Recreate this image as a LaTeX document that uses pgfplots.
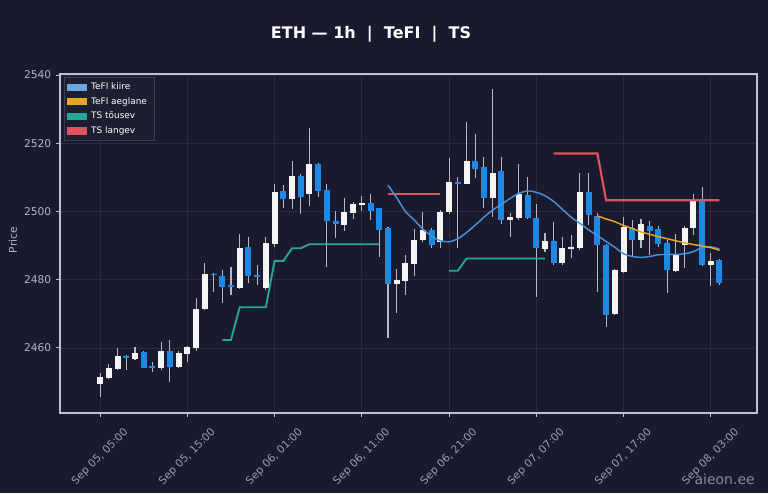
\documentclass[border=0pt]{standalone}
\usepackage{fontspec}
\setmainfont{DejaVu Sans}
\usepackage{pgfplots}
\usepackage{pgfplotstable}
\pgfplotsset{compat=1.18}

\definecolor{bg}{HTML}{1A1A2E}
\definecolor{gridc}{HTML}{2A2A42}
\definecolor{frame}{HTML}{C0C0CC}
\definecolor{ticklab}{HTML}{B4B4C0}
\definecolor{xlab}{HTML}{9C9CAC}
\definecolor{upc}{HTML}{F4F4F4}
\definecolor{dnc}{HTML}{1E88E5}
\definecolor{wick}{HTML}{B8B8C2}
\definecolor{kiire}{HTML}{4A90D9}
\definecolor{aeg}{HTML}{E6A623}
\definecolor{tous}{HTML}{26A69A}
\definecolor{lang}{HTML}{E05260}
\definecolor{legbg}{HTML}{1E1E31}
\definecolor{legdraw}{HTML}{3C3C55}

% candles: i = hours since Sep 05 05:00
\pgfplotstableread{
i o h l c
0 2449.3 2452.5 2445.7 2451.5
1 2451.3 2455.2 2451.0 2454.0
2 2453.7 2459.9 2453.5 2457.6
4 2456.7 2460.3 2456.5 2458.6
7 2454.0 2461.8 2453.5 2459.2
9 2454.3 2459.0 2454.0 2458.4
10 2458.2 2460.5 2456.0 2460.3
11 2459.9 2474.5 2459.2 2471.3
12 2471.4 2484.8 2471.0 2481.6
16 2477.7 2493.3 2477.4 2489.2
19 2477.7 2492.6 2477.0 2490.7
20 2490.4 2508.0 2489.7 2505.8
22 2503.6 2514.8 2500.6 2510.4
24 2505.0 2524.4 2501.6 2513.9
28 2496.0 2504.0 2494.3 2499.7
29 2499.4 2502.9 2497.8 2502.2
30 2501.9 2504.5 2500.2 2502.6
34 2478.7 2483.0 2470.3 2479.9
35 2479.7 2487.2 2475.5 2484.8
36 2484.5 2495.0 2481.1 2491.6
37 2491.6 2499.9 2491.0 2494.5
39 2491.1 2500.4 2489.2 2499.9
40 2499.9 2515.7 2499.3 2508.5
42 2508.2 2526.1 2508.0 2514.9
45 2503.8 2535.8 2498.5 2511.4
47 2497.5 2499.6 2492.6 2498.3
48 2498.0 2513.8 2497.5 2505.1
51 2488.9 2493.8 2488.2 2491.3
53 2484.8 2492.6 2484.3 2489.2
54 2488.9 2493.1 2486.5 2489.5
55 2489.2 2511.2 2488.7 2505.8
59 2469.9 2483.0 2469.5 2482.8
60 2482.3 2498.5 2482.0 2495.3
62 2491.6 2497.7 2489.2 2496.2
66 2482.5 2493.4 2482.3 2487.5
67 2490.1 2495.7 2483.3 2495.3
68 2495.0 2505.1 2493.1 2503.2
70 2484.3 2487.7 2478.1 2485.5
}\up

\pgfplotstableread{
i o h l c
3 2457.6 2457.8 2453.5 2457.2
5 2458.7 2459.0 2454.0 2454.2
6 2454.6 2456.0 2453.0 2454.1
8 2459.2 2462.3 2450.1 2454.5
13 2481.8 2482.0 2476.5 2481.3
14 2481.1 2482.8 2473.2 2477.9
15 2478.2 2483.8 2475.5 2477.9
17 2489.7 2492.4 2479.1 2481.1
18 2481.3 2484.3 2478.4 2480.9
21 2506.0 2507.7 2500.9 2503.6
23 2510.4 2510.9 2499.4 2504.3
25 2514.0 2514.3 2504.1 2506.1
26 2506.3 2508.2 2483.8 2497.2
27 2497.3 2500.1 2492.1 2496.2
31 2502.4 2505.1 2497.5 2500.2
32 2500.9 2501.1 2486.7 2494.5
33 2495.1 2495.5 2462.8 2478.7
38 2494.5 2495.0 2489.2 2490.1
41 2508.6 2510.0 2489.2 2508.2
43 2514.8 2522.7 2509.7 2512.6
44 2512.9 2516.0 2500.9 2503.8
46 2512.0 2515.9 2496.3 2497.5
49 2504.8 2510.0 2497.7 2498.0
50 2498.0 2502.2 2475.0 2489.2
52 2491.3 2497.0 2484.3 2484.8
56 2505.6 2511.2 2496.0 2498.9
57 2498.7 2499.4 2476.5 2490.1
58 2490.1 2490.5 2466.0 2469.6
61 2495.3 2497.5 2486.9 2491.6
63 2495.7 2497.2 2487.2 2494.3
64 2495.0 2495.7 2489.7 2490.4
65 2490.8 2491.6 2476.0 2482.8
69 2503.2 2507.3 2484.0 2484.3
71 2485.7 2486.2 2478.5 2478.9
}\down

\pgfplotsset{
  wicks/.style={draw=none, mark=none, forget plot,
    error bars/.cd, y dir=both, y explicit, error mark=none,
    error bar style={draw=wick, line width=0.8pt}},
  body/.style={draw=none, mark=none, forget plot,
    error bars/.cd, y dir=both, y explicit, error mark=none,
    error bar style={draw=#1, line width=4.5pt}},
}

\begin{document}
\begin{tikzpicture}
\path[use as bounding box, fill=bg] (0pt,0pt) rectangle (576pt,369.75pt);
\begin{axis}[
    at={(45pt,60pt)}, anchor=south west,
    scale only axis, width=522.75pt, height=254.25pt,
    xmin=-4.6, xmax=75.3, ymin=2440.9, ymax=2540.3,
    axis background/.style={fill=bg},
    axis line style={draw=frame, line width=1pt},
    tick align=outside, major tick length=3pt,
    tick style={draw=frame, line width=0.7pt},
    xtick={0,10,...,70},
    xticklabels={{Sep 05, 05:00},{Sep 05, 15:00},{Sep 06, 01:00},{Sep 06, 11:00},
                 {Sep 06, 21:00},{Sep 07, 07:00},{Sep 07, 17:00},{Sep 08, 03:00}},
    ytick={2460,2480,2500,2520,2540},
    yticklabel={\pgfmathprintnumber[1000 sep={}]{\tick}},
    /pgf/number format/assume math mode=true,
    xtick pos=bottom, ytick pos=left,
    grid=major, major grid style={draw=gridc, line width=0.5pt},
    ticklabel style={font=\fontsize{8}{9}\selectfont},
    xticklabel style={text=xlab, anchor=center, yshift=-30pt, rotate=45},
    yticklabel style={text=ticklab},
    legend style={at={(axis description cs:0.006,0.991)}, anchor=north west,
      fill=legbg, draw=legdraw, line width=0.5pt, text=white,
      font=\fontsize{6.7}{7.5}\selectfont, inner xsep=2pt, inner ysep=2pt,
      row sep=0.3pt, cells={anchor=west},
      nodes={inner xsep=3.5pt}},
    legend cell align=left,
  ]
  % wicks
  \addplot[wicks] table[x=i, y expr={(\thisrow{h}+\thisrow{l})/2},
    y error expr={(\thisrow{h}-\thisrow{l})/2}] {\up};
  \addplot[wicks] table[x=i, y expr={(\thisrow{h}+\thisrow{l})/2},
    y error expr={(\thisrow{h}-\thisrow{l})/2}] {\down};
  % bodies
  \addplot[body=upc] table[x=i, y expr={(\thisrow{o}+\thisrow{c})/2},
    y error expr={max(abs(\thisrow{c}-\thisrow{o})/2,0.25)}] {\up};
  \addplot[body=dnc] table[x=i, y expr={(\thisrow{o}+\thisrow{c})/2},
    y error expr={max(abs(\thisrow{c}-\thisrow{o})/2,0.25)}] {\down};

  % TS tõusev
  \addplot[tous, line width=1.4pt, forget plot] coordinates {
    (14,2462.3) (15,2462.3) (16,2471.9) (17,2471.9) (18,2471.9) (19,2471.9)
    (20,2485.5) (21,2485.5) (22,2489.2) (23,2489.2) (24,2490.4) (25,2490.4)
    (26,2490.4) (27,2490.4) (28,2490.4) (29,2490.4) (30,2490.4) (31,2490.4)
    (32,2490.4)};
  \addplot[tous, line width=1.4pt, forget plot] coordinates {
    (40,2482.6) (41,2482.6) (42,2486.2) (43,2486.2) (44,2486.2) (45,2486.2)
    (46,2486.2) (47,2486.2) (48,2486.2) (49,2486.2) (50,2486.2) (51,2486.2)};
  % TS langev
  \addplot[lang, line width=1.6pt, forget plot] coordinates {
    (33,2505.1) (34,2505.1) (35,2505.1) (36,2505.1) (37,2505.1) (38,2505.1)
    (39,2505.1)};
  \addplot[lang, line width=1.6pt, forget plot] coordinates {
    (52,2517.0) (53,2517.0) (54,2517.0) (55,2517.0) (56,2517.0) (57,2517.0)
    (58,2503.3) (59,2503.3) (60,2503.3) (61,2503.3) (62,2503.3) (63,2503.3)
    (64,2503.3) (65,2503.3) (66,2503.3) (67,2503.3) (68,2503.3) (69,2503.3)
    (70,2503.3) (71,2503.3)};
  % TeFI kiire
  \addplot[kiire, line width=1.1pt, smooth, forget plot] coordinates {
    (33,2507.7) (34,2504.0) (35,2500.0) (36,2497.5) (37,2494.8) (38,2492.8)
    (39,2491.4) (40,2491.1) (41,2492.0) (42,2493.8) (43,2496.0) (44,2498.3)
    (45,2500.4) (46,2502.1) (47,2503.8) (48,2505.3) (49,2506.0) (50,2505.6)
    (51,2504.6) (52,2502.9) (53,2500.6) (54,2498.3) (55,2496.5) (56,2494.6)
    (57,2492.9) (58,2491.2) (59,2489.5) (60,2487.6) (61,2486.8) (62,2486.5)
    (63,2486.8) (64,2487.3) (65,2487.4) (66,2487.4) (67,2487.6) (68,2488.2)
    (69,2489.4) (70,2489.6) (71,2489.0)};
  % TeFI aeglane
  \addplot[aeg, line width=1.1pt, smooth, forget plot] coordinates {
    (57,2498.7) (58,2497.8) (59,2497.0) (60,2495.9) (61,2495.0) (62,2494.0)
    (63,2493.3) (64,2492.6) (65,2492.0) (66,2491.4) (67,2490.8) (68,2490.3)
    (69,2489.9) (70,2489.4) (71,2488.6)};

  \addlegendimage{legend image code/.code={\fill[kiire!80!white] (0pt,-2.3pt) rectangle (14pt,2.3pt);}}
  \addlegendentry{TeFI kiire}
  \addlegendimage{legend image code/.code={\fill[aeg] (0pt,-2.3pt) rectangle (14pt,2.3pt);}}
  \addlegendentry{TeFI aeglane}
  \addlegendimage{legend image code/.code={\fill[tous] (0pt,-2.3pt) rectangle (14pt,2.3pt);}}
  \addlegendentry{TS tõusev}
  \addlegendimage{legend image code/.code={\fill[lang] (0pt,-2.3pt) rectangle (14pt,2.3pt);}}
  \addlegendentry{TS langev}
\end{axis}
\node[text=white, font=\fontsize{12}{14}\selectfont\bfseries] at (278.25pt,344pt)
  {ETH — 1h\ \ |\ \ TeFI\ \ |\ \ TS};
\node[text=ticklab, rotate=90, font=\fontsize{8}{9}\selectfont] at (9.75pt,189.75pt) {Price};
\node[text=xlab!85!bg, font=\fontsize{10.5}{12}\selectfont] at (543.5pt,10.5pt) {aieon.ee};
\end{tikzpicture}
\end{document}
